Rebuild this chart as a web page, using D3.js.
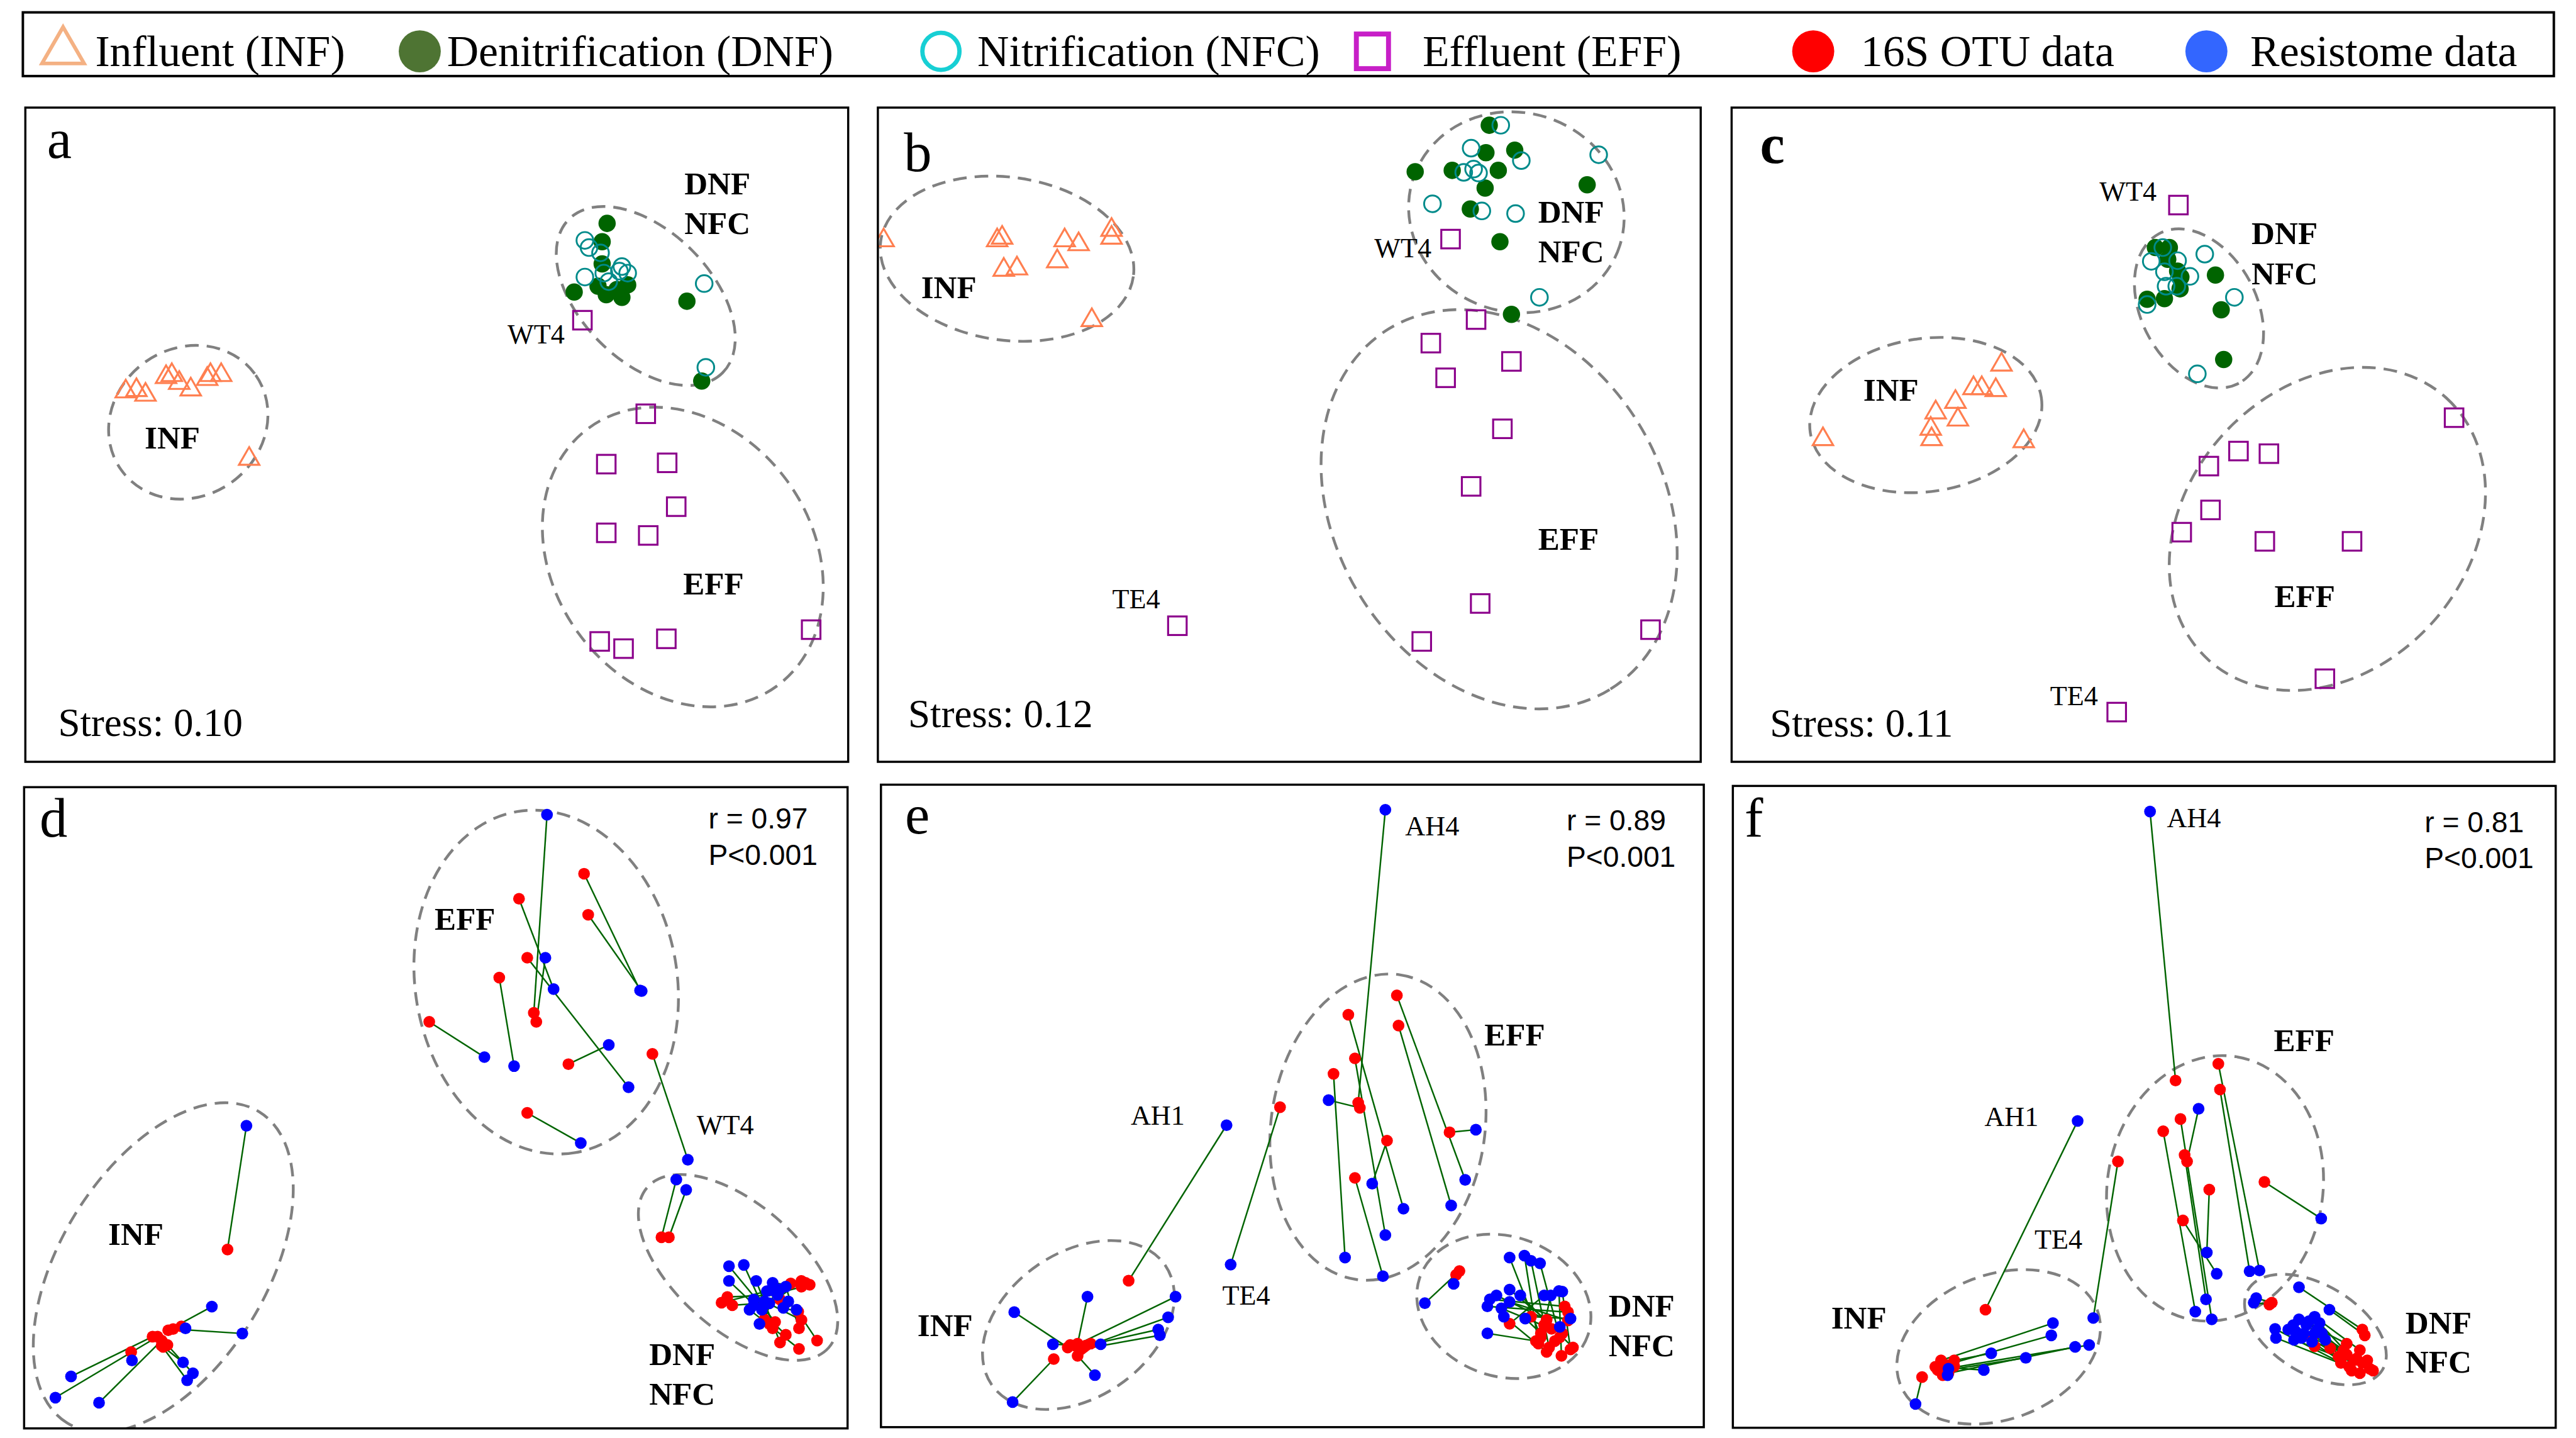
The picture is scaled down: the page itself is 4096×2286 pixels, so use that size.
<!DOCTYPE html>
<html><head><meta charset="utf-8">
<script src="https://cdn.jsdelivr.net/npm/d3@7"></script>
<style>html,body{margin:0;padding:0;background:#fff;}svg{display:block;}</style>
</head><body>
<svg id="chart" width="4096" height="2286"></svg>
<script>
// ---------------- DATA (NMDS / Procrustes coordinates, % of plotting range) ----------------
const groups = ["INF", "DNF", "NFC", "EFF"];
const legendLabels = ["Influent (INF)", "Denitrification (DNF)", "Nitrification (NFC)", "Effluent (EFF)", "16S OTU data", "Resistome data"];
const panelLetters = ["a", "b", "c", "d", "e", "f"];
const stressValues = ["0.10", "0.12", "0.11"];
const procrustesR = ["0.97", "0.89", "0.81"];
const procrustesP = ["P<0.001", "P<0.001", "P<0.001"];

// Panel a (16S OTU NMDS)
const a_INF = [[12.2,56.6],[13.5,56.8],[14.6,56.1],[17.1,58.8],[17.8,59.1],[18.7,57.9],[20.1,56.9],[22.1,58.5],[22.5,59.1],[23.8,59.1],[27.2,46.3]];
const a_DNF = [[70.7,82.3],[70.1,79.5],[70.1,76.1],[66.7,71.8],[69.6,72.7],[70.6,71.4],[72.5,71.0],[73.2,72.9],[71.9,72.2],[80.4,70.4],[82.2,58.2]];
const a_NFC = [[68.0,79.7],[68.5,78.6],[69.9,77.8],[68.0,74.1],[70.9,73.4],[72.5,75.7],[73.2,74.7],[72.2,75.0],[70.3,74.7],[82.5,73.1],[82.7,60.3]];
const a_EFF = [[67.7,67.5],[75.4,53.2],[70.6,45.5],[78.0,45.7],[79.1,39.0],[70.6,35.0],[75.7,34.6],[69.8,18.4],[72.7,17.3],[77.9,18.8],[95.5,20.2]];
// Panel b
const b_INF = [[0.7,79.7],[14.5,79.7],[15.1,80.1],[15.3,75.2],[16.9,75.4],[21.8,76.5],[22.7,79.7],[24.4,79.1],[28.4,81.3],[28.4,80.1],[26.0,67.5]];
const b_DNF = [[74.3,97.3],[73.9,93.1],[77.4,93.5],[65.3,90.2],[69.8,90.4],[75.4,90.4],[73.8,87.7],[72.0,84.5],[86.2,88.2],[75.6,79.5],[77.0,68.4]];
const b_NFC = [[75.7,97.3],[72.1,93.8],[78.2,91.9],[71.2,90.1],[72.4,90.6],[73.0,90.0],[67.4,85.3],[73.4,84.2],[77.5,83.8],[87.6,92.8],[80.4,71.0]];
const b_EFF = [[69.6,79.9],[72.7,67.6],[67.2,64.0],[77.0,61.2],[69.0,58.7],[75.9,50.9],[72.1,42.1],[73.2,24.2],[66.1,18.4],[93.9,20.2],[36.4,20.8]];
// Panel c
const c_INF = [[11.1,49.3],[24.2,50.9],[24.3,49.3],[24.8,53.4],[27.2,55.0],[27.5,52.3],[29.4,57.1],[30.4,57.1],[32.1,56.8],[32.8,60.7],[35.5,49.0]];
const c_DNF = [[51.5,78.6],[53.2,78.6],[53.0,76.8],[54.2,75.0],[54.6,74.1],[54.5,72.3],[50.5,70.7],[52.6,70.8],[58.8,74.4],[59.5,69.1],[59.8,61.5]];
const c_NFC = [[52.4,78.6],[51.0,76.5],[54.2,76.6],[57.5,77.6],[52.6,74.9],[55.7,74.2],[52.8,72.7],[54.1,72.7],[50.5,69.9],[61.1,71.0],[56.6,59.3]];
const c_EFF = [[54.3,85.1],[87.8,52.6],[61.6,47.5],[65.3,47.1],[58.0,45.2],[58.2,38.5],[54.7,35.1],[64.8,33.7],[75.4,33.7],[72.1,12.7],[46.8,7.6]];

// Procrustes: 16S OTU (red) vs resistome (blue), paired by index
const d_otu = [[24.7,27.9],[15.6,14.3],[16.2,14.3],[16.7,13.7],[17.5,15.3],[18.1,15.5],[19.1,15.9],[16.9,12.7],[17.4,13.0],[16.7,12.9],[13.0,11.9],
  [68.0,86.5],[68.5,80.1],[60.1,82.6],[61.1,73.4],[61.9,64.8],[62.2,63.4],[57.7,70.3],[49.2,63.4],[66.1,56.8],[61.1,49.2],[76.3,58.4],
  [77.4,29.8],[78.3,29.8],[85.4,20.5],[86.0,19.2],[94.4,23.0],[95.4,22.4],[94.4,22.1],[91.2,16.6],[90.9,15.6],[92.5,14.6],[91.8,13.4],
  [94.1,15.6],[94.4,16.9],[96.3,13.7],[94.1,12.4],[91.8,20.1],[90.5,16.3],[94.0,18.2],[84.7,19.6],[89.9,17.0],[93.1,22.6],[94.9,22.7]];
const d_res = [[27.0,47.2],[5.7,8.1],[3.8,4.8],[9.1,4.0],[22.8,19.0],[26.5,14.8],[19.6,15.6],[19.3,10.3],[20.5,8.6],[19.8,7.5],[13.1,10.6],
  [74.8,68.3],[75.0,68.2],[64.3,68.5],[73.4,53.2],[63.5,95.7],[63.3,73.4],[59.5,56.5],[55.9,57.9],[71.0,59.8],[67.6,44.5],[80.6,41.9],
  [79.2,38.8],[80.4,37.2],[91.5,20.8],[92.8,19.8],[89.6,18.5],[88.6,20.1],[90.9,22.7],[85.6,25.3],[87.4,25.5],[85.6,23.0],[88.9,23.0],
  [92.5,22.1],[89.9,19.8],[93.8,18.5],[88.1,18.5],[88.6,19.2],[89.3,16.3],[92.2,18.8],[90.2,21.4],[91.2,21.4],[90.5,19.5],[91.8,21.7]];
const e_otu = [[30.1,22.8],[21.0,10.6],[22.7,12.4],[23.9,13.0],[23.6,12.7],[24.6,12.4],[24.9,12.7],[24.3,12.1],[23.9,11.1],[23.0,12.8],[25.5,13.0],
  [58.0,50.5],[62.7,67.2],[62.9,62.5],[56.8,64.2],[57.6,57.4],[55.0,55.0],[58.2,49.7],[61.5,44.6],[57.6,38.8],[69.1,45.9],[48.5,49.8],
  [70.3,24.3],[69.9,23.7],[83.1,18.8],[83.5,17.9],[80.9,16.7],[80.2,14.0],[79.9,13.0],[81.2,12.4],[82.5,14.0],[82.8,14.6],[84.1,12.4],
  [83.8,12.1],[82.7,11.1],[80.9,11.7],[79.6,13.4],[76.4,16.1],[80.6,15.9],[79.0,17.2],[81.9,13.4],[80.2,14.6],[83.5,16.6],[81.5,15.3]];
const e_res = [[42.0,47.0],[16.0,3.9],[16.2,17.9],[25.1,20.3],[35.8,20.3],[34.9,17.1],[33.7,15.2],[33.9,14.3],[26.0,8.1],[20.9,12.9],[26.7,12.9],
  [61.3,96.1],[71.0,38.5],[69.3,34.5],[63.5,34.0],[61.3,29.9],[56.4,26.4],[54.4,50.9],[59.7,37.9],[61.0,23.5],[72.3,46.3],[42.5,25.3],
  [66.1,19.3],[69.6,22.3],[74.0,19.9],[73.7,18.8],[74.8,20.5],[76.4,26.4],[78.2,26.7],[79.0,25.9],[80.1,25.5],[76.4,21.4],[77.7,20.5],
  [82.8,21.1],[82.4,21.2],[75.7,17.2],[73.7,14.6],[80.6,20.5],[81.4,20.5],[83.8,16.9],[82.5,15.6],[78.3,16.9],[76.4,19.5],[75.4,18.5]];
const f_otu = [[30.7,18.4],[23.0,7.9],[25.3,10.5],[25.9,9.8],[26.9,10.5],[25.6,8.9],[26.2,8.5],[24.9,9.0],[24.6,9.5],[26.9,9.6],[25.5,8.2],
  [53.8,54.1],[59.0,56.7],[59.2,52.7],[54.4,48.1],[52.3,46.2],[54.9,42.5],[55.2,41.5],[57.9,37.1],[54.7,32.3],[64.6,38.3],[46.8,41.5],
  [65.5,19.5],[65.2,19.2],[76.5,15.3],[76.8,14.4],[74.6,13.1],[76.2,12.1],[75.5,10.5],[73.9,10.1],[74.9,9.5],[76.2,8.5],[77.4,9.2],
  [75.8,10.8],[70.7,12.7],[70.4,14.0],[77.8,8.9],[73.6,11.1],[74.6,11.4],[76.5,10.1],[75.2,8.9],[72.6,12.4],[77.1,10.5],[74.2,12.1]];
const f_res = [[41.9,47.8],[22.2,3.7],[38.9,16.3],[38.7,14.4],[31.4,11.6],[35.6,10.9],[41.6,12.6],[43.3,12.9],[30.5,9.0],[26.2,9.2],[26.1,8.2],
  [50.7,96.0],[64.0,24.5],[62.8,24.4],[58.2,16.9],[56.2,18.1],[57.5,20.0],[56.6,49.7],[57.6,27.3],[58.8,24.0],[71.5,32.6],[43.8,17.1],
  [63.6,20.2],[63.3,19.5],[68.8,21.9],[72.5,18.4],[68.8,16.9],[70.7,17.3],[71.3,16.3],[65.9,15.4],[66.0,14.0],[68.4,15.0],[68.2,13.7],
  [69.7,16.0],[70.7,14.7],[71.6,14.7],[72.0,13.7],[69.4,14.7],[70.0,16.6],[68.1,16.0],[71.0,15.3],[69.1,14.0],[70.4,13.4],[67.5,15.3]];

// Group ellipses: [centreX, centreY, semi-major, semi-minor (% of panel width), angle in degrees clockwise]
const a_ellipses = [[19.8,51.9,10.0,9.0,-35],[75.4,71.2,13.2,7.9,45],[79.9,31.3,19.4,15.7,54]];
const b_ellipses = [[15.7,76.9,15.5,9.9,8],[77.6,84.0,13.2,12.1,18],[75.5,38.6,25.7,19.9,58.5]];
const c_ellipses = [[23.6,53.0,14.2,9.3,-8.6],[56.8,69.3,10.3,7.0,62],[72.4,35.6,21.5,17.1,-47.7]];
const d_ellipses = [[16.9,25.1,22.2,12.5,121.7],[63.4,69.6,21.0,15.9,80.4],[86.7,25.1,14.7,7.6,41.5]];
const e_ellipses = [[24.0,15.9,12.8,8.8,-34.6],[60.4,46.7,18.7,13.0,-81.9],[75.7,18.8,10.8,8.5,18.9]];
const f_ellipses = [[32.3,12.6,12.8,8.8,-20.6],[58.6,37.3,16.2,13.1,-80.8],[70.8,15.3,9.5,5.4,30.8]];

// ---------------- LAYOUT (reference pixels) ----------------
const SCALE = 0.983;
const boxes = {a:[41,174,1372,1232], b:[1420,174,2751,1232], c:[2801,174,4132,1232],
               d:[39,1273,1371,2310], e:[1425,1269,2756,2308], f:[2803,1271,4134,2309]};
const SERIF = "'Liberation Serif','Times New Roman',serif";
const SANS = "'Liberation Sans',Arial,sans-serif";
const COL = {inf:"#FF7F50", dnf:"#006400", nfc:"#008B8B", eff:"#8B008B", otu:"#FF0000", res:"#0000FF", link:"#006400", ell:"#808080"};

const svg = d3.select("#chart");
svg.append("rect").attr("width",4096).attr("height",2286).attr("fill","#fff");
const root = svg.append("g").attr("transform", `scale(${SCALE})`);

// ---------- Legend ----------
const leg = root.append("g");
leg.append("rect").attr("x",37).attr("y",20).attr("width",4094).attr("height",103)
  .attr("fill","none").attr("stroke","#000").attr("stroke-width",4);
const legMarkX = [102, 679, 1522, 2220, 2933, 3569];
const legTextX = [154, 723, 1581, 2301, 3010, 3640];
const legY = 83;
leg.append("path").attr("d", d3.symbol(d3.symbolTriangle, 0.433*68*68)())
  .attr("transform",`translate(${legMarkX[0]},${legY})`).attr("fill","none").attr("stroke","#F4B183").attr("stroke-width",6);
leg.append("circle").attr("cx",legMarkX[1]).attr("cy",legY).attr("r",34).attr("fill","#4E7433");
leg.append("circle").attr("cx",legMarkX[2]).attr("cy",legY).attr("r",30).attr("fill","none").attr("stroke","#17CFD4").attr("stroke-width",7);
leg.append("rect").attr("x",legMarkX[3]-26).attr("y",legY-28).attr("width",52).attr("height",56)
  .attr("fill","none").attr("stroke","#C71FC7").attr("stroke-width",8);
leg.append("circle").attr("cx",legMarkX[4]).attr("cy",legY).attr("r",34).attr("fill","#FF0000");
leg.append("circle").attr("cx",legMarkX[5]).attr("cy",legY).attr("r",34).attr("fill","#3366FF");
legendLabels.forEach((t,i)=>{
  leg.append("text").attr("x",legTextX[i]).attr("y",107).attr("font-family",SERIF).attr("font-size",71).attr("fill","#000").text(t);
});

// ---------- helpers ----------
function makePanel(key){
  const [x0,y0,x1,y1] = boxes[key];
  const x = d3.scaleLinear().domain([0,100]).range([x0,x1]);
  const y = d3.scaleLinear().domain([0,100]).range([y1,y0]);
  const g = root.append("g");
  const cid = "clip-"+key;
  root.append("clipPath").attr("id",cid).append("rect").attr("x",x0).attr("y",y0).attr("width",x1-x0).attr("height",y1-y0);
  const inner = g.append("g").attr("clip-path",`url(#${cid})`);
  return {x,y,g,inner,x0,y0,x1,y1,pw:x1-x0};
}
function drawEllipses(P, ells){
  P.inner.selectAll("ellipse.grp").data(ells).join("ellipse").attr("class","grp")
    .attr("rx",d=>d[2]*P.pw/100).attr("ry",d=>d[3]*P.pw/100)
    .attr("transform",d=>`translate(${P.x(d[0])},${P.y(d[1])}) rotate(${d[4]})`)
    .attr("fill","none").attr("stroke",COL.ell).attr("stroke-width",4.5).attr("stroke-dasharray","22,13");
}
function label(P, txt, px, py, opt={}){
  P.g.append("text").attr("x",px).attr("y",py)
    .attr("font-family",opt.sans?SANS:SERIF).attr("font-size",opt.size||52)
    .attr("font-weight",opt.bold?"bold":"normal").attr("fill","#000").text(txt);
}
function border(P){
  P.g.append("rect").attr("x",P.x0).attr("y",P.y0).attr("width",P.pw).attr("height",P.y1-P.y0)
    .attr("fill","none").attr("stroke","#000").attr("stroke-width",3.5);
}

// ---------- NMDS panels ----------
function nmdsPanel(key, inf, dnf, nfc, eff, ells){
  const P = makePanel(key);
  drawEllipses(P, ells);
  const tri = d3.symbol(d3.symbolTriangle, 0.433*33*33)();
  P.inner.selectAll("path.inf").data(inf).join("path").attr("class","inf").attr("d",tri)
    .attr("transform",d=>`translate(${P.x(d[0])},${P.y(d[1])})`)
    .attr("fill","none").attr("stroke",COL.inf).attr("stroke-width",3.2);
  P.inner.selectAll("rect.eff").data(eff).join("rect").attr("class","eff")
    .attr("x",d=>P.x(d[0])-15).attr("y",d=>P.y(d[1])-15).attr("width",30).attr("height",30)
    .attr("fill","none").attr("stroke",COL.eff).attr("stroke-width",3.2);
  P.inner.selectAll("circle.dnf").data(dnf).join("circle").attr("class","dnf")
    .attr("cx",d=>P.x(d[0])).attr("cy",d=>P.y(d[1])).attr("r",14).attr("fill",COL.dnf);
  P.inner.selectAll("circle.nfc").data(nfc).join("circle").attr("class","nfc")
    .attr("cx",d=>P.x(d[0])).attr("cy",d=>P.y(d[1])).attr("r",13.5)
    .attr("fill","none").attr("stroke",COL.nfc).attr("stroke-width",3);
  return P;
}
function procPanel(key, otu, res, ells){
  const P = makePanel(key);
  drawEllipses(P, ells);
  const pairs = otu.map((o,i)=>[o,res[i]]);
  P.inner.selectAll("line.lk").data(pairs).join("line").attr("class","lk")
    .attr("x1",d=>P.x(d[0][0])).attr("y1",d=>P.y(d[0][1])).attr("x2",d=>P.x(d[1][0])).attr("y2",d=>P.y(d[1][1]))
    .attr("stroke",COL.link).attr("stroke-width",2.5);
  P.inner.selectAll("circle.otu").data(otu).join("circle").attr("class","otu")
    .attr("cx",d=>P.x(d[0])).attr("cy",d=>P.y(d[1])).attr("r",9.5).attr("fill",COL.otu);
  P.inner.selectAll("circle.res").data(res).join("circle").attr("class","res")
    .attr("cx",d=>P.x(d[0])).attr("cy",d=>P.y(d[1])).attr("r",9.5).attr("fill",COL.res);
  return P;
}

// Panel a
const PA = nmdsPanel("a", a_INF, a_DNF, a_NFC, a_EFF, a_ellipses);
label(PA, panelLetters[0], 76, 255, {size:90});
label(PA, "Stress: "+stressValues[0], 94, 1190, {size:64});
label(PA, groups[1], 1107, 314, {bold:true});
label(PA, groups[2], 1107, 378, {bold:true});
label(PA, groups[0], 234, 725, {bold:true});
label(PA, groups[3], 1105, 961, {bold:true});
label(PA, "WT4", 821, 555, {size:45});
border(PA);

// Panel b
const PB = nmdsPanel("b", b_INF, b_DNF, b_NFC, b_EFF, b_ellipses);
label(PB, panelLetters[1], 1462, 277, {size:90});
label(PB, "Stress: "+stressValues[1], 1469, 1176, {size:64});
label(PB, groups[0], 1490, 482, {bold:true});
label(PB, groups[1], 2488, 360, {bold:true});
label(PB, groups[2], 2488, 424, {bold:true});
label(PB, groups[3], 2488, 889, {bold:true});
label(PB, "WT4", 2223, 416, {size:45});
label(PB, "TE4", 1799, 984, {size:45});
border(PB);

// Panel c
const PC = nmdsPanel("c", c_INF, c_DNF, c_NFC, c_EFF, c_ellipses);
label(PC, panelLetters[2], 2847, 263, {size:90, bold:true});
label(PC, "Stress: "+stressValues[2], 2863, 1191, {size:64});
label(PC, groups[0], 3014, 648, {bold:true});
label(PC, groups[1], 3642, 395, {bold:true});
label(PC, groups[2], 3642, 460, {bold:true});
label(PC, groups[3], 3679, 982, {bold:true});
label(PC, "WT4", 3396, 325, {size:45});
label(PC, "TE4", 3316, 1140, {size:45});
border(PC);

// Panel d
const PD = procPanel("d", d_otu, d_res, d_ellipses);
label(PD, panelLetters[3], 64, 1353, {size:90});
label(PD, "r = "+procrustesR[0], 1146, 1340, {size:47, sans:true});
label(PD, procrustesP[0], 1146, 1399, {size:47, sans:true});
label(PD, groups[3], 703, 1504, {bold:true});
label(PD, groups[0], 175, 2013, {bold:true});
label(PD, "WT4", 1127, 1834, {size:45});
label(PD, groups[1], 1050, 2208, {bold:true});
label(PD, groups[2], 1050, 2272, {bold:true});
border(PD);

// Panel e
const PE = procPanel("e", e_otu, e_res, e_ellipses);
label(PE, panelLetters[4], 1464, 1348, {size:90});
label(PE, "r = "+procrustesR[1], 2534, 1343, {size:47, sans:true});
label(PE, procrustesP[1], 2534, 1402, {size:47, sans:true});
label(PE, "AH4", 2273, 1351, {size:45});
label(PE, groups[3], 2401, 1691, {bold:true});
label(PE, "AH1", 1829, 1819, {size:45});
label(PE, "TE4", 1977, 2110, {size:45});
label(PE, groups[0], 1484, 2161, {bold:true});
label(PE, groups[1], 2602, 2129, {bold:true});
label(PE, groups[2], 2602, 2193, {bold:true});
border(PE);

// Panel f
const PF = procPanel("f", f_otu, f_res, f_ellipses);
label(PF, panelLetters[5], 2822, 1353, {size:90});
label(PF, "r = "+procrustesR[2], 3922, 1346, {size:47, sans:true});
label(PF, procrustesP[2], 3922, 1404, {size:47, sans:true});
label(PF, "AH4", 3505, 1338, {size:45});
label(PF, "AH1", 3210, 1821, {size:45});
label(PF, "TE4", 3291, 2019, {size:45});
label(PF, groups[3], 3678, 1700, {bold:true});
label(PF, groups[0], 2962, 2149, {bold:true});
label(PF, groups[1], 3891, 2157, {bold:true});
label(PF, groups[2], 3891, 2220, {bold:true});
border(PF);
</script>
</body></html>
